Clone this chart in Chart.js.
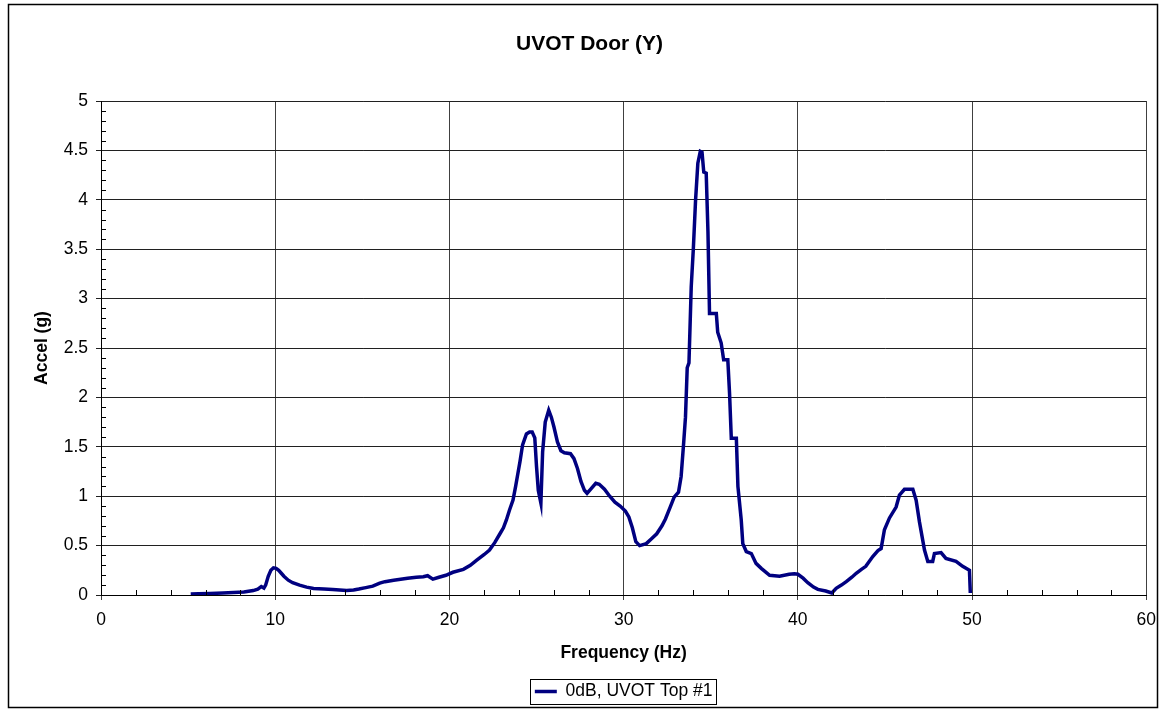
<!DOCTYPE html>
<html>
<head>
<meta charset="utf-8">
<script src="https://cdn.jsdelivr.net/npm/chart.js@4.4.1/dist/chart.umd.min.js"></script>
<style>
  html, body { margin: 0; padding: 0; background: #ffffff; }
  #wrap { width: 1166px; height: 712px; }
</style>
</head>
<body>
<div id="wrap"><canvas id="c" width="1166" height="712"></canvas></div>
<script>
const chartTitle = 'UVOT Door (Y)';
const xTitle = 'Frequency (Hz)';
const yTitle = 'Accel (g)';
const seriesLabel = '0dB, UVOT Top #1';

const freq = [
  5.15, 5.6, 6.25, 7.0, 7.6, 8.2, 8.74, 9.0, 9.2, 9.35,
  9.45, 9.6, 9.75, 9.9, 10.05, 10.2, 10.35, 10.5, 10.75, 11.0,
  11.4, 11.8, 12.2, 12.8, 13.3, 13.7, 14.1, 14.5, 14.8, 15.2,
  15.6, 16.0, 16.3, 16.8, 17.2, 17.6, 18.1, 18.5, 18.75, 19.05,
  19.4, 19.8, 20.2, 20.8, 21.2, 21.55, 22.0, 22.3, 22.6, 22.9,
  23.1, 23.27, 23.45, 23.65, 23.8, 23.95, 24.05, 24.2, 24.42, 24.6,
  24.75, 24.9, 25.0, 25.1, 25.25, 25.35, 25.5, 25.7, 25.85, 26.0,
  26.2, 26.4, 26.6, 26.95, 27.15, 27.35, 27.55, 27.75, 27.9, 28.1,
  28.4, 28.6, 28.9, 29.2, 29.5, 29.8, 30.1, 30.3, 30.5, 30.7,
  30.92, 31.3, 31.6, 31.9, 32.2, 32.4, 32.65, 32.9, 33.15, 33.3,
  33.45, 33.55, 33.65, 33.75, 33.88, 34.0, 34.13, 34.26, 34.4, 34.5,
  34.6, 34.74, 34.84, 34.93, 35.32, 35.4, 35.6, 35.74, 35.98, 36.08,
  36.18, 36.47, 36.56, 36.75, 36.84, 37.04, 37.33, 37.6, 37.9, 38.38,
  38.95, 39.5, 39.8, 40.0, 40.3, 40.57, 40.9, 41.15, 41.6, 41.95,
  42.2, 42.5, 42.78, 43.1, 43.35, 43.65, 43.9, 44.3, 44.6, 44.78,
  44.97, 45.26, 45.64, 45.83, 46.12, 46.6, 46.79, 46.98, 47.27, 47.46,
  47.74, 47.84, 48.22, 48.5, 49.08, 49.46, 49.85, 49.9
];
const accel = [
  0.01, 0.012, 0.015, 0.02, 0.025, 0.03, 0.045, 0.06, 0.085, 0.07,
  0.1, 0.19, 0.25, 0.275, 0.27, 0.25, 0.22, 0.19, 0.15, 0.125,
  0.1, 0.08, 0.065, 0.06, 0.055, 0.05, 0.045, 0.05, 0.06, 0.075,
  0.09, 0.12, 0.135, 0.15, 0.16, 0.17, 0.18, 0.185, 0.195, 0.16,
  0.18, 0.2, 0.23, 0.26, 0.3, 0.35, 0.41, 0.455, 0.53, 0.62,
  0.68, 0.76, 0.86, 0.96, 1.1, 1.25, 1.35, 1.52, 1.63, 1.65,
  1.65, 1.59, 1.3, 1.06, 0.93, 1.45, 1.75, 1.87, 1.8, 1.7,
  1.55, 1.46, 1.44, 1.43, 1.38, 1.28, 1.15, 1.06, 1.03, 1.07,
  1.13, 1.12, 1.07, 1.0, 0.94, 0.9, 0.85, 0.79, 0.68, 0.54,
  0.5, 0.52, 0.57, 0.62, 0.7, 0.77, 0.88, 0.99, 1.04, 1.2,
  1.55, 1.8, 2.3, 2.35, 3.12, 3.5, 4.0, 4.37, 4.49, 4.48,
  4.28, 4.27, 3.68, 2.85, 2.85, 2.66, 2.55, 2.38, 2.38, 2.04,
  1.586, 1.586, 1.1, 0.76, 0.52, 0.44, 0.42, 0.32, 0.27, 0.2,
  0.19, 0.21, 0.215, 0.21, 0.17, 0.125, 0.08, 0.057, 0.04, 0.02,
  0.068, 0.1, 0.135, 0.18, 0.22, 0.26, 0.29, 0.39, 0.45, 0.47,
  0.66, 0.78, 0.89, 1.01, 1.07, 1.07, 0.96, 0.74, 0.455, 0.34,
  0.34, 0.42, 0.43, 0.37, 0.34, 0.29, 0.25, 0.02
];

const xMin = 0, xMax = 60, xStep = 10, xMinorStep = 2;
const yMin = 0, yMax = 5, yStep = 0.5, yMinorStep = 0.1;

const points = freq.map((f, i) => ({ x: f, y: accel[i] }));

const FONT = '"Liberation Sans", Arial, Helvetica, sans-serif';

const decorPlugin = {
  id: 'decor',
  beforeDraw(chart) {
    const ctx = chart.ctx;
    ctx.save();
    ctx.fillStyle = '#ffffff';
    ctx.fillRect(0, 0, chart.width, chart.height);
    ctx.restore();
  },
  afterDraw(chart) {
    const ctx = chart.ctx;
    const xs = chart.scales.x, ys = chart.scales.y;
    const a = chart.chartArea;
    ctx.save();
    ctx.strokeStyle = '#000000';
    ctx.lineWidth = 1;
    ctx.beginPath();
    for (let v = xMin + xMinorStep; v < xMax; v += xMinorStep) {
      if (Math.abs(v / xStep - Math.round(v / xStep)) < 1e-6) continue;
      const px = Math.round(xs.getPixelForValue(v)) + 0.5;
      ctx.moveTo(px, a.bottom);
      ctx.lineTo(px, a.bottom - 5);
    }
    for (let v = yMin + yMinorStep; v < yMax - 1e-6; v += yMinorStep) {
      if (Math.abs(v / yStep - Math.round(v / yStep)) < 1e-6) continue;
      const py = Math.round(ys.getPixelForValue(v)) + 0.5;
      ctx.moveTo(a.left, py);
      ctx.lineTo(a.left + 5, py);
    }
    ctx.stroke();
    const lg = chart.legend;
    if (lg && lg.legendHitBoxes && lg.legendHitBoxes.length) {
      const hb = lg.legendHitBoxes[0];
      ctx.strokeStyle = '#000000';
      ctx.lineWidth = 1;
      const l = Math.round(hb.left - 5) + 0.5;
      const t = Math.round(hb.top - 4) + 0.5;
      const r = Math.round(hb.left + hb.width + 4) + 0.5;
      const b = Math.round(hb.top + hb.height + 4) + 0.5;
      ctx.strokeRect(l, t, r - l, b - t);
    }
    ctx.strokeStyle = '#000000';
    ctx.lineWidth = 1.5;
    ctx.strokeRect(8.5, 4.5, 1149, 703);
    ctx.restore();
  }
};

new Chart(document.getElementById('c'), {
  type: 'line',
  data: {
    datasets: [{
      label: seriesLabel,
      data: points,
      borderColor: '#000080',
      backgroundColor: '#000080',
      borderWidth: 3.5,
      pointRadius: 0,
      pointHoverRadius: 0,
      tension: 0,
      fill: false
    }]
  },
  options: {
    responsive: false,
    animation: false,
    events: [],
    layout: { padding: { left: 32, right: 19, top: 0, bottom: 1.75 } },
    plugins: {
      title: {
        display: true,
        text: chartTitle,
        color: '#000000',
        font: { family: FONT, size: 21, weight: 'bold' },
        padding: { top: 31.4, bottom: 44.4 }
      },
      legend: {
        display: true,
        position: 'bottom',
        fullSize: false,
        labels: {
          color: '#000000',
          font: { family: FONT, size: 17.5 },
          usePointStyle: true,
          pointStyle: 'line',
          pointStyleWidth: 22,
          padding: 6
        }
      },
      tooltip: { enabled: false }
    },
    scales: {
      x: {
        type: 'linear',
        min: xMin,
        max: xMax,
        afterFit(s) { s.height = 81.75; },
        ticks: {
          stepSize: xStep,
          color: '#000000',
          font: { family: FONT, size: 17.5 },
          padding: 10,
          maxRotation: 0,
          callback: (v) => String(Number(v))
        },
        grid: { color: '#404040', lineWidth: 1, tickLength: 5, drawTicks: true },
        border: { display: true, color: '#000000', width: 1 },
        title: {
          display: true,
          text: xTitle,
          color: '#000000',
          font: { family: FONT, size: 17.5, weight: 'bold' },
          padding: { top: 0, bottom: 13.25 }
        }
      },
      y: {
        type: 'linear',
        min: yMin,
        max: yMax,
        afterFit(s) { s.width = 69; },
        ticks: {
          stepSize: yStep,
          color: '#000000',
          font: { family: FONT, size: 17.5 },
          padding: 8,
          callback: (v) => String(Math.round(Number(v) * 10) / 10)
        },
        grid: { color: '#202020', lineWidth: 1, tickLength: 5, drawTicks: true },
        border: { display: true, color: '#000000', width: 1 },
        title: {
          display: true,
          text: yTitle,
          color: '#000000',
          font: { family: FONT, size: 17.5, weight: 'bold' },
          padding: { top: 0, bottom: 0 }
        }
      }
    }
  },
  plugins: [decorPlugin]
});
</script>
</body>
</html>
